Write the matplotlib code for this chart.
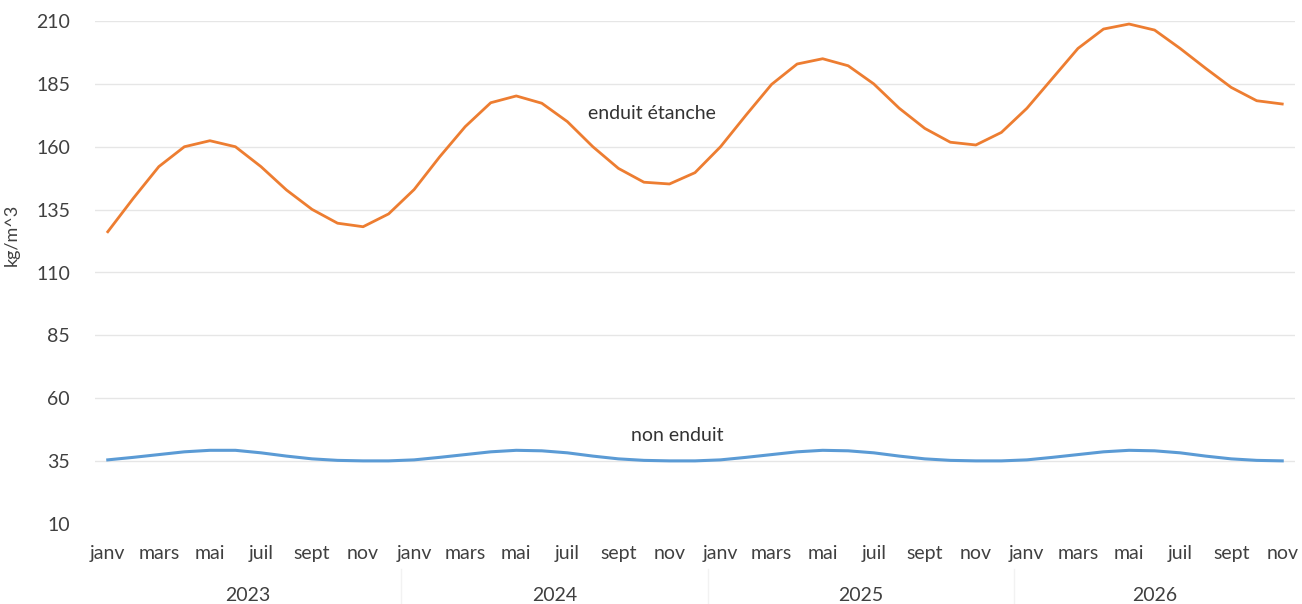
import matplotlib
matplotlib.use("Agg")
import matplotlib.pyplot as plt
import numpy as np

months = ["janv", "févr", "mars", "avr", "mai", "juin",
          "juil", "août", "sept", "oct", "nov", "déc"]
years = ["2023", "2024", "2025", "2026"]
months_per_year = [12, 12, 12, 11]

enduit_etanche = [
    126.2, 139.5, 152.1, 160.0, 162.4, 160.0, 152.1, 142.8, 135.1, 129.6, 128.2, 133.3,
    143.0, 156.0, 168.0, 177.5, 180.2, 177.3, 170.0, 160.0, 151.4, 145.9, 145.2, 149.7,
    160.0, 172.6, 184.8, 192.9, 195.0, 192.2, 185.0, 175.3, 167.3, 161.8, 160.7, 165.7,
    175.3, 187.2, 199.1, 206.8, 208.8, 206.4, 199.1, 191.2, 183.6, 178.3, 177.0,
]
non_enduit = [
    35.5, 36.5, 37.6, 38.7, 39.3, 39.3, 38.3, 37.0, 35.9, 35.3, 35.1, 35.1,
    35.5, 36.5, 37.6, 38.7, 39.3, 39.1, 38.3, 37.0, 35.9, 35.3, 35.1, 35.1,
    35.5, 36.5, 37.6, 38.7, 39.3, 39.1, 38.3, 37.0, 35.9, 35.3, 35.1, 35.1,
    35.5, 36.5, 37.6, 38.7, 39.3, 39.1, 38.3, 37.0, 35.9, 35.3, 35.1,
]
y_ticks = [10, 35, 60, 85, 110, 135, 160, 185, 210]
y_label = "kg/m^3"
label_etanche = "enduit étanche"
label_non = "non enduit"

plt.rcParams['font.family'] = ['Lato', 'DejaVu Sans']
text_color = "#404040"

fig = plt.figure(figsize=(13.02, 6.04), dpi=100)
ax = fig.add_axes([95/1302, 1 - 524/604, 1200/1302, 503/604])

n = len(enduit_etanche)
x = np.arange(n)
ax.plot(x, enduit_etanche, color="#ED7D31", lw=2.0, solid_joinstyle="round")
ax.plot(x, non_enduit, color="#5B9BD5", lw=2.2, solid_joinstyle="round")

ax.set_xlim(-0.5, n - 0.5)
ax.set_ylim(y_ticks[0], y_ticks[-1])
ax.set_yticks(y_ticks)
ax.set_yticklabels([str(t) for t in y_ticks])
ax.grid(axis="y", color="#E6E6E6", lw=1.0)
ax.set_axisbelow(True)
for s in ax.spines.values():
    s.set_visible(False)
ax.tick_params(axis="y", length=0, pad=18, labelsize=14, labelcolor=text_color)

# month tick labels (every other month)
tick_pos = []
tick_lab = []
for i in range(n):
    if i % 2 == 0:
        tick_pos.append(i)
        tick_lab.append(months[i % 12])
ax.set_xticks(tick_pos)
ax.set_xticklabels(tick_lab)
ax.tick_params(axis="x", length=0, pad=15, labelsize=14, labelcolor=text_color)

# year labels and separators
trans = ax.get_xaxis_transform()
start = 0
for yr, cnt in zip(years, months_per_year):
    center = start + (cnt - 1) / 2
    ax.text(center, -0.143, yr, transform=trans, ha="center", va="center",
            fontsize=14, color=text_color)
    start += cnt
    if start < n:
        ax.plot([start - 0.5, start - 0.5], [-0.09, -0.16], transform=trans,
                color="#F2F2F2", lw=1.0, clip_on=False)

ax.set_ylabel(y_label, fontsize=13, color=text_color)
ax.yaxis.set_label_coords(-0.063, 0.575)

ax.text(21.3, 173.4, label_etanche, ha="center", va="center", fontsize=14, color="#333333")
ax.text(22.3, 45.1, label_non, ha="center", va="center", fontsize=14, color="#333333")

fig.canvas.draw()
ax.yaxis.get_gridlines()[0].set_visible(False)

fig.savefig("out.png", dpi=100, facecolor="white")
